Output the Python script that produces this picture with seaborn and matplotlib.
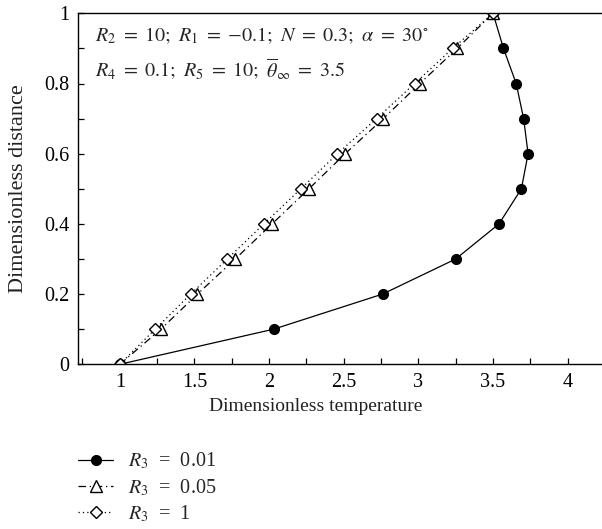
import numpy as np
import pandas as pd
import matplotlib
matplotlib.use("Agg")
import matplotlib.pyplot as plt
import seaborn as sns
from matplotlib.ticker import MultipleLocator, FixedLocator

# ---- data ----
eta = [0.0, 0.1, 0.2, 0.3, 0.4, 0.5, 0.6, 0.7, 0.8, 0.9, 1.0]
theta_r3_001 = [1.0, 2.03, 2.76, 3.25, 3.54, 3.69, 3.735, 3.705, 3.655, 3.57, 3.5]
theta_r3_005 = [1.0, 1.275, 1.52, 1.773, 2.02, 2.267, 2.51, 2.765, 3.01, 3.26, 3.5]
theta_r3_1 = [1.0, 1.237, 1.475, 1.72, 1.965, 2.213, 2.458, 2.72, 2.975, 3.23, 3.5]
labels = ["$R_3$\u2002=\u20020.01", "$R_3$\u2002=\u20020.05", "$R_3$\u2002=\u20021"]
xlabel = "Dimensionless temperature"
ylabel = "Dimensionless distance"
ann1 = r"$R_2\ =\ 10;\ R_1\ =\ {-0.1};\ N\ =\ 0.3;\ \alpha\ =\ 30^{\circ}$"
ann2 = r"$R_4\ =\ 0.1;\ R_5\ =\ 10;\ \overline{\theta}_{\infty}\ =\ 3.5$"

sns.set_theme(style="ticks")
plt.rcParams["font.family"] = ["Liberation Serif", "DejaVu Serif"]
plt.rcParams["mathtext.fontset"] = "stix"

fig = plt.figure(figsize=(6.02, 5.29), dpi=100)
ax = fig.add_axes([78 / 602, 1 - 364.3 / 529, 1 - 78 / 602, (364.3 - 13.3) / 529])

series = [
    (theta_r3_001, dict(color="black", linestyle="-", marker="o", markerfacecolor="black",
                        markeredgecolor="black", markersize=7)),
    (theta_r3_005, dict(color="black", linestyle=(0, (6, 3, 1, 3)), marker="^", markerfacecolor="white",
                        markeredgecolor="black", markersize=8.5)),
    (theta_r3_1, dict(color="black", linestyle=(0, (1, 2.5)), marker="D", markerfacecolor="white",
                      markeredgecolor="black", markersize=6.5)),
]
for (xs, style), lab in zip(series, labels):
    df = pd.DataFrame({"x": xs, "y": eta})
    sns.lineplot(data=df, x="x", y="y", sort=False, estimator=None, ax=ax,
                 linewidth=0.9, markeredgewidth=1.0, label=lab, **style)

ax.set_xlim(0.72, 4.23)
ax.set_ylim(0, 1)
ax.xaxis.set_major_locator(FixedLocator([1, 1.5, 2, 2.5, 3, 3.5, 4]))
ax.xaxis.set_minor_locator(FixedLocator([0.75, 1.25, 1.75, 2.25, 2.75, 3.25, 3.75]))
ax.yaxis.set_minor_locator(MultipleLocator(0.1))
ax.set_yticks([0, 0.2, 0.4, 0.6, 0.8, 1.0])
ax.set_yticklabels(["0", "0.2", "0.4", "0.6", "0.8", "1"])
ax.set_xticklabels(["1", "1.5", "2", "2.5", "3", "3.5", "4"])
ax.tick_params(which="both", direction="in", length=4.5, width=0.9, labelsize=14.5,
               colors="black", pad=6, top=False, right=False)
for s in ["left", "bottom", "top"]:
    ax.spines[s].set_linewidth(1.0)
    ax.spines[s].set_color("black")
ax.spines["right"].set_visible(False)

ax.set_xlabel(xlabel, fontsize=14, color="#222222")
ax.set_ylabel(ylabel, fontsize=16, color="#222222")
ax.xaxis.set_label_coords((316 - 78) / 524, -0.097)
ax.yaxis.set_label_coords(-0.095, 0.5)

ax.text(0.033, 0.935, ann1, transform=ax.transAxes, fontsize=14.5, va="center", ha="left")
ax.text(0.033, 0.84, ann2, transform=ax.transAxes, fontsize=14.5, va="center", ha="left")

h, l = ax.get_legend_handles_labels()
ax.get_legend().remove()
fig.legend(h, l, loc="upper left", bbox_to_anchor=(78 / 602, 1 - 451 / 529), frameon=False,
           fontsize=14.5, handlelength=1.75, handletextpad=0.75, labelspacing=0.28,
           borderpad=0, borderaxespad=0)

fig.savefig("out.png", dpi=100)
